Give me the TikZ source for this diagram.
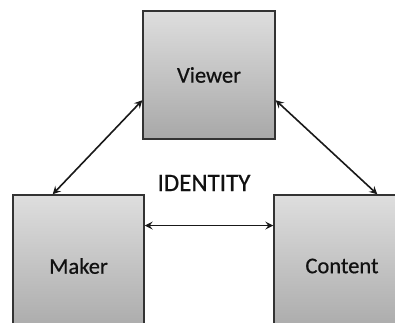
\documentclass[tikz,border=0pt]{standalone}
\usepackage{fontspec}
\setmainfont{Carlito}[FakeBold=0.6]
\usetikzlibrary{arrows.meta,calc}
\definecolor{boxtop}{HTML}{DEDEDE}
\definecolor{boxbot}{HTML}{A8A8A8}
\definecolor{boxline}{HTML}{333333}
\definecolor{txt}{HTML}{111111}
\tikzset{
  box/.style={draw=boxline, line width=1.4pt, top color=boxtop, bottom color=boxbot,
    inner sep=0pt, font=\fontsize{22.5}{26}\selectfont, text=txt},
  tip/.tip={Stealth[length=8pt,width=8pt,inset=3pt]},
  arr/.style={line width=1.6pt, draw=black!90, tip-tip},
}
\begin{document}
\begin{tikzpicture}[x=1pt,y=-1pt]
\clip (0,0) rectangle (395,322);
\fill[white] (0,0) rectangle (395,322);
\node[box, minimum width=132pt, minimum height=128pt] (viewer) at (209,75) {Viewer};
\node[box, minimum width=131pt, minimum height=142pt] (maker) at (78.5,266) {Maker};
\node[box, minimum width=136pt, minimum height=142pt] (content) at (342,266) {Content};
\node[font=\fontsize{25}{28}\selectfont, text=txt] (identity) at (204,183) {IDENTITY};
\draw[arr] ($(viewer.south west)!0.305!(viewer.north west)$) -- ($(maker.north west)!0.305!(maker.north east)$);
\draw[arr] ($(viewer.south east)!0.305!(viewer.north east)$) -- ($(content.north west)!0.757!(content.north east)$);
\draw[arr] ($(maker.north east)!0.218!(maker.south east)$) -- ($(content.north west)!0.218!(content.south west)$);
\end{tikzpicture}
\end{document}
